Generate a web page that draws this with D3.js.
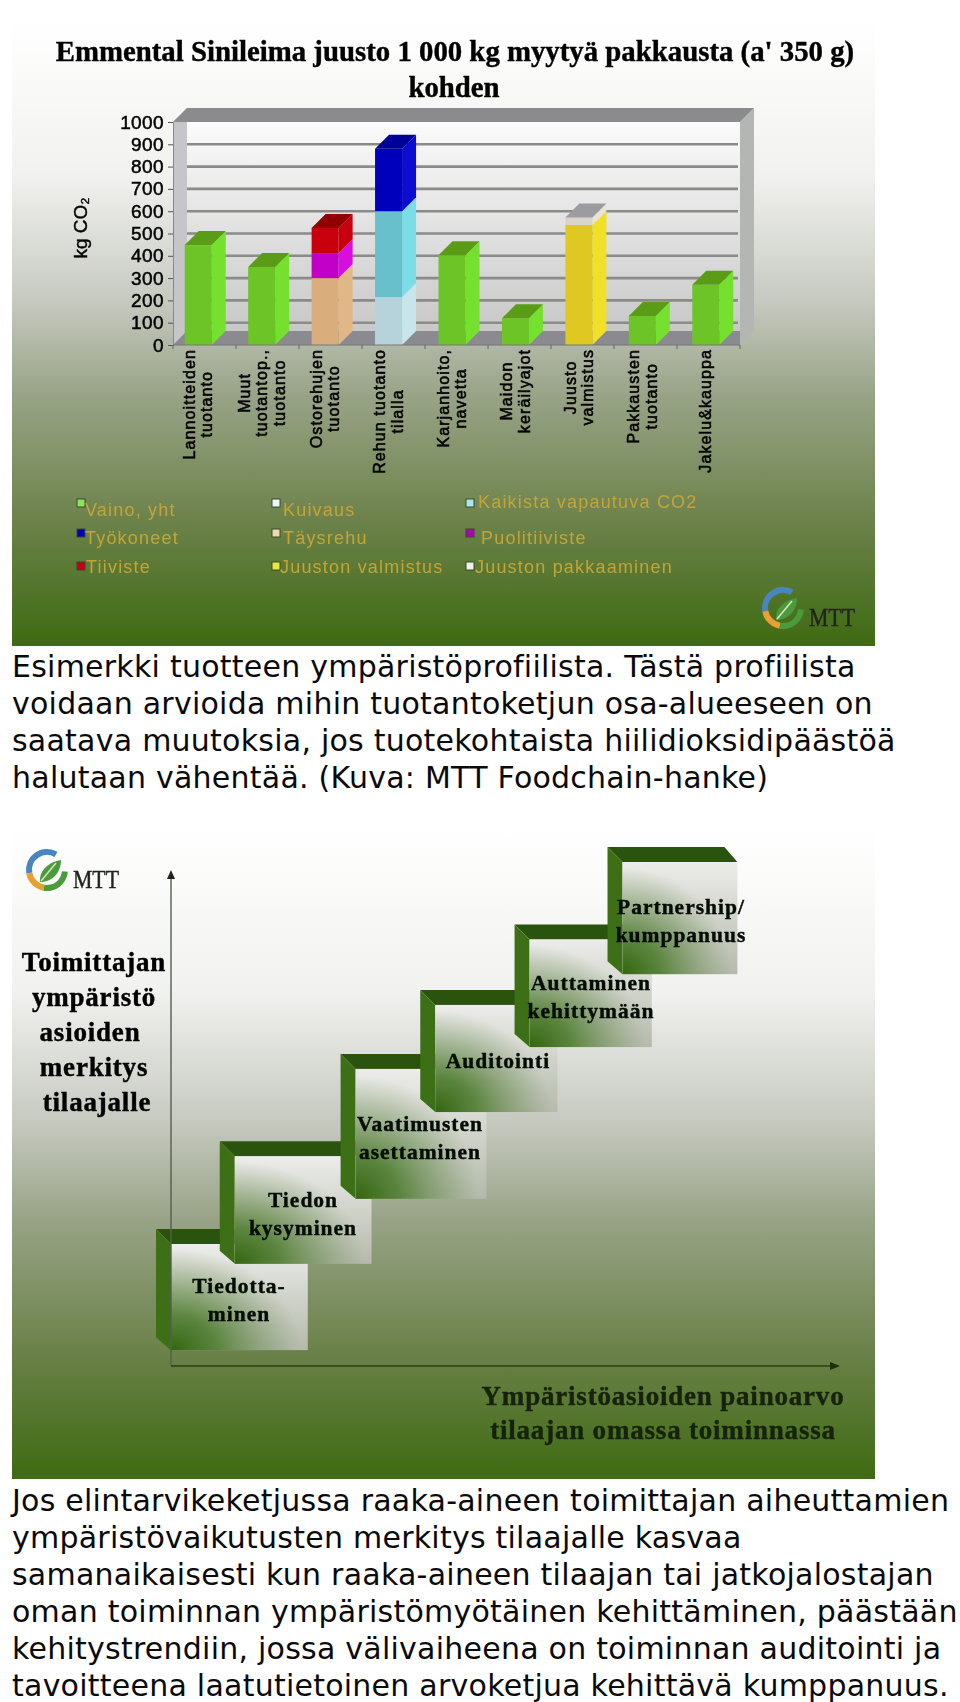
<!DOCTYPE html>
<html>
<head>
<meta charset="utf-8">
<script src="https://cdnjs.cloudflare.com/ajax/libs/d3/7.8.5/d3.min.js"></script>
<style>
body { margin: 0; background: #fff; overflow: hidden; }
svg { display: block; }
.serif { font-family: "Liberation Serif", serif; font-weight: bold; stroke: currentColor; stroke-width: 0.4px; }
.sans { font-family: "Liberation Sans", sans-serif; }
.logotext { font-family: "Liberation Serif", serif; font-weight: normal; }
.caption { font-family: "DejaVu Sans", sans-serif; font-size: 30px; letter-spacing: 0.24px; fill: #0a0a0a; }
</style>
</head>
<body>
<div id="chart"></div>
<script>
// values
const categories = ["Lannoitteiden|tuotanto", "Muut|tuotantop.,|tuotanto", "Ostorehujen|tuotanto", "Rehun tuotanto|tilalla", "Karjanhoito,|navetta", "Maidon|keräilyajot", "Juusto|valmistus", "Pakkausten|tuotanto", "Jakelu&kauppa"];
const seriesNames = ["Vaino, yht", "Kuivaus", "Kaikista vapautuva CO2", "Työkoneet", "Täysrehu", "Puolitiiviste", "Tiiviste", "Juuston valmistus", "Juuston pakkaaminen"];
const vaino = [448, 350, 0, 0, 403, 120, 0, 130, 270];
const kuivaus = [0, 0, 0, 215, 0, 0, 0, 0, 0];
const kaikista = [0, 0, 0, 385, 0, 0, 0, 0, 0];
const tyokoneet = [0, 0, 0, 280, 0, 0, 0, 0, 0];
const taysrehu = [0, 0, 300, 0, 0, 0, 0, 0, 0];
const puolitiiviste = [0, 0, 112, 0, 0, 0, 0, 0, 0];
const tiiviste = [0, 0, 113, 0, 0, 0, 0, 0, 0];
const valmistus = [0, 0, 0, 0, 0, 0, 538, 0, 0];
const pakkaaminen = [0, 0, 0, 0, 0, 0, 34, 0, 0];
const seriesValues = [vaino, kuivaus, kaikista, tyokoneet, taysrehu, puolitiiviste, tiiviste, valmistus, pakkaaminen];
const yTicks = [0, 100, 200, 300, 400, 500, 600, 700, 800, 900, 1000];

const frontColors = ["#6cc428", "#b6d3db", "#67c0cc", "#0000bc", "#d9ad7c", "#c000c8", "#c80008", "#e0c820", "#d8d4c8"];
const sideColors = ["#74e02e", "#c9e5ec", "#7cdce8", "#0a0ad0", "#e0b888", "#d810e0", "#c80010", "#f0e028", "#e8e4d8"];
const topColors = ["#5a9c18", "#c9e5ec", "#7cdce8", "#000098", "#e0b888", "#d810e0", "#900004", "#f0e028", "#9c9ca0"];
const legendColors = ["#90e060", "#eef6f8", "#a8e8e8", "#0000c0", "#eed8b0", "#b000b8", "#c00018", "#e8e840", "#f0f0e8"];

const stepLabels = ["Tiedotta-|minen", "Tiedon|kysyminen", "Vaatimusten|asettaminen", "Auditointi", "Auttaminen|kehittymään", "Partnership/|kumppanuus"];
const stepStart = [0, 9.6, 27.8, 39.8, 54, 68];
const stepEnd = [20.6, 30.2, 47.5, 58.2, 72.4, 85.3];
const stepLow = [3.2, 20.6, 33.7, 51.2, 64.3, 79];
const stepHigh = [24.6, 42.3, 59.9, 72.8, 86, 101.6];

const caption1 = ["Esimerkki tuotteen ympäristöprofiilista. Tästä profiilista", "voidaan arvioida mihin tuotantoketjun osa-alueeseen on", "saatava muutoksia, jos tuotekohtaista hiilidioksidipäästöä", "halutaan vähentää. (Kuva: MTT Foodchain-hanke)"];
const caption2 = ["Jos elintarvikeketjussa raaka-aineen toimittajan aiheuttamien", "ympäristövaikutusten merkitys tilaajalle kasvaa", "samanaikaisesti kun raaka-aineen tilaajan tai jatkojalostajan", "oman toiminnan ympäristömyötäinen kehittäminen, päästään", "kehitystrendiin, jossa välivaiheena on toiminnan auditointi ja", "tavoitteena laatutietoinen arvoketjua kehittävä kumppanuus."];
const yAxisLines = ["Toimittajan", "ympäristö", "asioiden", "merkitys", "tilaajalle"];
const xAxisLines = ["Ympäristöasioiden painoarvo", "tilaajan omassa toiminnassa"];

const svg = d3.select("#chart").append("svg").attr("width", 960).attr("height", 1702);
const defs = svg.append("defs");

const panelGrad = defs.append("linearGradient").attr("id", "panelGrad").attr("x1", 0).attr("x2", 0).attr("y1", 0).attr("y2", 1);
[[0, "#ffffff"], [0.25, "#f1f1ef"], [0.45, "#c6c9c0"], [0.6, "#98a386"], [0.8, "#6c824a"], [1, "#3f6a12"]].forEach(s => {
    panelGrad.append("stop").attr("offset", s[0]).attr("stop-color", s[1]);
});
const wallGrad = defs.append("linearGradient").attr("id", "wallGrad").attr("x1", 0).attr("x2", 0).attr("y1", 0).attr("y2", 1);
wallGrad.append("stop").attr("offset", 0).attr("stop-color", "#fbfbfb");
wallGrad.append("stop").attr("offset", 1).attr("stop-color", "#c8c8c8");
const boxBase = defs.append("linearGradient").attr("id", "boxBase").attr("x1", 0).attr("x2", 0).attr("y1", 0).attr("y2", 1);
boxBase.append("stop").attr("offset", 0).attr("stop-color", "#ececea");
boxBase.append("stop").attr("offset", 1).attr("stop-color", "#b4baab");
const boxGreen = defs.append("radialGradient").attr("id", "boxGreen").attr("cx", 0).attr("cy", 1).attr("r", 0.95);
boxGreen.append("stop").attr("offset", 0).attr("stop-color", "#33660f").attr("stop-opacity", 1);
boxGreen.append("stop").attr("offset", 0.35).attr("stop-color", "#4a7a2a").attr("stop-opacity", 0.85);
boxGreen.append("stop").attr("offset", 1).attr("stop-color", "#6a8a50").attr("stop-opacity", 0);
defs.append("filter").attr("id", "soft").attr("x", "-5%").attr("y", "-5%").attr("width", "110%").attr("height", "110%")
    .append("feGaussianBlur").attr("stdDeviation", 0.6);
defs.append("filter").attr("id", "softer").attr("x", "-5%").attr("y", "-30%").attr("width", "110%").attr("height", "160%")
    .append("feGaussianBlur").attr("stdDeviation", 0.7);

function drawLogo(g, cx, cy) {
    const arc = d3.arc().innerRadius(15).outerRadius(21);
    const parts = [["#4a86c0", -100, 30], ["#e8a030", -170, -100], ["#4c9a3a", 95, 190]];
    const lg = g.append("g").attr("transform", "translate(" + cx + "," + cy + ")");
    lg.selectAll("path.ring").data(parts).enter().append("path").attr("class", "ring")
        .attr("fill", d => d[0])
        .attr("d", d => arc({ startAngle: d[1] * Math.PI / 180, endAngle: d[2] * Math.PI / 180 }));
    lg.append("path").attr("fill", "#4c9a3a").attr("d", "M-7,12 C-8,0 2,-8 14,-10 C14,2 6,12 -7,12 Z");
    lg.append("path").attr("stroke", "#d8e4c0").attr("stroke-width", 1.5).attr("fill", "none").attr("d", "M-6,11 L9,-7");
    g.append("text").attr("class", "logotext").attr("x", cx + 26).attr("y", cy + 18)
        .attr("font-size", 25).attr("fill", "#20261e").attr("stroke", "#20261e").attr("stroke-width", 0.4)
        .attr("textLength", 46).attr("lengthAdjust", "spacingAndGlyphs").text("MTT");
}

// ---- first panel: bar chart
const p1 = svg.append("g").attr("filter", "url(#soft)");
p1.append("rect").attr("x", 12).attr("y", 20).attr("width", 863).attr("height", 626).attr("fill", "url(#panelGrad)");

p1.append("text").attr("class", "serif").attr("x", 455).attr("y", 61).attr("text-anchor", "middle").attr("font-size", 28.8).attr("fill", "#000").attr("color", "#000")
    .text("Emmental Sinileima juusto 1 000 kg myytyä pakkausta (a' 350 g)");
p1.append("text").attr("class", "serif").attr("x", 454).attr("y", 97).attr("text-anchor", "middle").attr("font-size", 28.8).attr("fill", "#000").attr("color", "#000").text("kohden");

const chartLeft = 173, chartRight = 744, wallRight = 740, depth = 14, barWidth = 27;
const x = d3.scaleBand().domain(categories).range([chartLeft, chartRight]);
const y = d3.scaleLinear().domain([0, 1000]).range([345, 122]);

function poly(pts) { return d3.line()(pts) + "Z"; }

// walls of the 3d box
p1.append("rect").attr("x", chartLeft + depth).attr("y", y(1000)).attr("width", wallRight - chartLeft - depth).attr("height", y(0) - y(1000) - depth).attr("fill", "url(#wallGrad)");
p1.append("path").attr("fill", "#c6c6ca").attr("d", poly([[chartLeft, y(1000)], [chartLeft + depth, y(1000) - depth], [chartLeft + depth, y(0) - depth], [chartLeft, y(0)]]));
p1.append("path").attr("fill", "#b4b6b4").attr("d", poly([[wallRight, y(1000)], [wallRight + depth, y(1000) - depth], [wallRight + depth, y(0) - depth], [wallRight, y(0)]]));
p1.append("path").attr("fill", "#8b8b8d").attr("d", poly([[chartLeft, y(1000)], [chartLeft + depth, y(1000) - depth], [wallRight + depth, y(1000) - depth], [wallRight, y(1000)]]));
p1.append("path").attr("fill", "#8a8a90").attr("d", poly([[chartLeft, y(0)], [chartLeft + depth, y(0) - depth], [wallRight, y(0) - depth], [wallRight, y(0)]]));

// gridlines
p1.selectAll("line.grid").data(yTicks.filter(d => d > 0 && d < 1000)).enter().append("line").attr("class", "grid")
    .attr("x1", chartLeft + depth).attr("x2", wallRight - 2).attr("y1", d => y(d)).attr("y2", d => y(d))
    .attr("stroke", "#8a8a88").attr("stroke-width", 2.6);

// stacked bars
const rows = categories.map((c, i) => {
    const row = { category: c };
    seriesNames.forEach((s, j) => { row[s] = seriesValues[j][i]; });
    return row;
});
const stacked = d3.stack().keys(seriesNames)(rows);
const barX = d => x(d.data.category) + x.bandwidth() / 2 - 20;
const layers = [];
stacked.forEach((layer, j) => {
    layer.forEach(d => { if (d[1] > d[0]) layers.push({ d: d, j: j, index: categories.indexOf(d.data.category) }); });
});
layers.sort((a, b) => a.index - b.index || a.d[0] - b.d[0]);
const isTop = l => !layers.some(o => o.index === l.index && o.d[0] >= l.d[1]);

const barG = p1.append("g");
layers.forEach(l => {
    const x0 = barX(l.d), x1 = x0 + barWidth, y0 = y(l.d[0]), y1 = y(l.d[1]);
    barG.append("path").attr("fill", sideColors[l.j]).attr("d", poly([[x1, y0], [x1 + depth, y0 - depth], [x1 + depth, y1 - depth], [x1, y1]]));
    barG.append("rect").attr("x", x0).attr("y", y1).attr("width", barWidth).attr("height", y0 - y1).attr("fill", frontColors[l.j]);
    if (isTop(l)) {
        barG.append("path").attr("fill", topColors[l.j]).attr("d", poly([[x0, y1], [x0 + depth, y1 - depth], [x1 + depth, y1 - depth], [x1, y1]]));
    }
});

// axes
const yAxis = d3.axisLeft(y).tickValues(yTicks).tickFormat(d3.format("d")).tickSize(5).tickPadding(4);
const yG = p1.append("g").attr("transform", "translate(" + chartLeft + ",0)").call(yAxis);
yG.select(".domain").attr("stroke", "#888");
yG.selectAll(".tick line").attr("stroke", "#555");
yG.selectAll("text").attr("class", "sans").attr("font-size", 19).attr("letter-spacing", 0.4).attr("fill", "#000").attr("stroke", "#000").attr("stroke-width", 0.5);

const xAxis = d3.axisBottom(x).tickSize(0).tickFormat("");
const xG = p1.append("g").attr("transform", "translate(0," + y(0) + ")").call(xAxis);
xG.select(".domain").attr("d", "M" + chartLeft + ",0H" + wallRight).attr("stroke", "#777");
const edgeStep = (wallRight - chartLeft) / categories.length;
xG.selectAll("line.edge").data(categories.concat([null])).enter().append("line").attr("class", "edge")
    .attr("x1", (d, i) => chartLeft + i * edgeStep).attr("x2", (d, i) => chartLeft + i * edgeStep)
    .attr("y1", 0).attr("y2", 4).attr("stroke", "#666");

// rotated category labels, lines centred on each other
const labelTop = 349, labelLine = 17.5;
categories.forEach(c => {
    const lines = c.split("|");
    const cx = x(c) + x.bandwidth() / 2 - 2;
    const widths = [];
    const g = p1.append("g").attr("class", "sans").attr("font-size", 16).attr("letter-spacing", 1.1).attr("fill", "#000").attr("stroke", "#000").attr("stroke-width", 0.55);
    const t = g.selectAll("text").data(lines).enter().append("text").attr("text-anchor", "middle").text(d => d);
    t.each(function () { widths.push(this.getComputedTextLength()); });
    const mid = labelTop + d3.max(widths) / 2;
    t.attr("transform", (d, i) => "translate(" + (cx + (i - (lines.length - 1) / 2) * labelLine + 1) + "," + mid + ") rotate(-90)");
});

p1.append("text").attr("class", "sans").attr("font-size", 19).attr("fill", "#000").attr("stroke", "#000").attr("stroke-width", 0.4).attr("text-anchor", "middle")
    .attr("transform", "translate(87,228) rotate(-90)").text("kg CO₂");

// legend
const legendX = [81, 276, 470];
const legendRowY = [503, 533, 566];
const legendTextX = [[85, 85, 86], [283, 283, 280], [478, 481, 475]];
const legendTextY = [[510, 538, 567], [510, 538, 567], [502, 538, 567]];
const legendOrder = [0, 3, 6, 1, 4, 7, 2, 5, 8];
const legendItems = legendOrder.map((s, i) => ({ name: seriesNames[s], color: legendColors[s], col: Math.floor(i / 3), row: i % 3 }));
const legend = p1.selectAll("g.legend").data(legendItems).enter().append("g").attr("class", "legend");
legend.append("rect").attr("x", d => legendX[d.col] - 4).attr("y", d => legendRowY[d.row] - 4).attr("width", 8).attr("height", 8)
    .attr("fill", d => d.color).attr("stroke", "#3a4a2a").attr("stroke-width", 1);
legend.append("text").attr("class", "sans").attr("x", d => legendTextX[d.col][d.row]).attr("y", d => legendTextY[d.col][d.row]).attr("dy", "0.35em")
    .attr("font-size", 18).attr("letter-spacing", 1.2).attr("fill", "#c4a436").attr("filter", "url(#softer)").text(d => d.name);

drawLogo(p1, 783, 608);

// ---- second panel: step diagram
const p2 = svg.append("g").attr("filter", "url(#soft)");
p2.append("rect").attr("x", 12).attr("y", 830).attr("width", 863).attr("height", 649).attr("fill", "url(#panelGrad)");
drawLogo(p2, 47, 870);

const sx = d3.scaleLinear().domain([0, 100]).range([171, 835]);
const sy = d3.scaleLinear().domain([0, 100]).range([1366, 870]);
const off = 15;
stepLabels.forEach((label, i) => {
    const x0 = sx(stepStart[i]), x1 = sx(stepEnd[i]), yb = sy(stepLow[i]), yt = sy(stepHigh[i]);
    p2.append("path").attr("fill", "#2c520c").attr("d", poly([[x0 - off, yt - off], [x1 - 13, yt - off], [x1, yt], [x0, yt]]));
    p2.append("path").attr("fill", "#3d7012").attr("d", poly([[x0 - off, yt - off], [x0, yt], [x0, yb], [x0 - off, yb - 13]]));
    p2.append("rect").attr("x", x0).attr("y", yt).attr("width", x1 - x0).attr("height", yb - yt).attr("fill", "url(#boxBase)");
    p2.append("rect").attr("x", x0).attr("y", yt).attr("width", x1 - x0).attr("height", yb - yt).attr("fill", "url(#boxGreen)");
});

// axis arrows
const axisY = sy(0);
p2.append("line").attr("x1", sx(0)).attr("x2", sx(0)).attr("y1", axisY).attr("y2", sy(99)).attr("stroke", "#555e50").attr("stroke-width", 1.4);
p2.append("line").attr("x1", sx(0)).attr("x2", 832).attr("y1", axisY).attr("y2", axisY).attr("stroke", "#28401a").attr("stroke-width", 1.4);
p2.append("path").attr("fill", "#222").attr("d", poly([[sx(0), sy(100)], [sx(0) + 4, sy(100) + 9], [sx(0) - 4, sy(100) + 9]]));
p2.append("path").attr("fill", "#1c3010").attr("d", poly([[840, axisY], [830, axisY - 4], [830, axisY + 4]]));

// step labels
const stepTextX = [239, 303, 420, 498, 591, 681];
const stepTextY = [1285, 1199, 1123, 1060, 982, 906];
stepLabels.forEach((label, i) => {
    p2.selectAll("text.step" + i).data(label.split("|")).enter().append("text").attr("class", "serif step" + i)
        .attr("x", stepTextX[i]).attr("y", (d, j) => stepTextY[i] + j * 28.5).attr("dy", "0.35em")
        .attr("text-anchor", "middle").attr("font-size", 21.5).attr("letter-spacing", 1).attr("fill", "#050a05").attr("color", "#050a05").text(d => d);
});

p2.selectAll("text.ylab").data(yAxisLines).enter().append("text").attr("class", "serif ylab")
    .attr("x", (d, i) => [94, 94, 90, 94, 97][i]).attr("y", (d, i) => 962 + i * 35).attr("dy", "0.35em")
    .attr("text-anchor", "middle").attr("font-size", 27).attr("letter-spacing", 0.8).attr("fill", "#000").attr("color", "#000").text(d => d);
p2.selectAll("text.xlab").data(xAxisLines).enter().append("text").attr("class", "serif xlab")
    .attr("x", 663).attr("y", (d, i) => 1396 + i * 34).attr("dy", "0.35em")
    .attr("text-anchor", "middle").attr("font-size", 27).attr("letter-spacing", 0.8).attr("fill", "#142408").attr("color", "#142408").text(d => d);

// captions
const caps = svg.append("g");
caps.selectAll("text.c1").data(caption1).enter().append("text").attr("class", "caption c1").attr("x", 12).attr("y", (d, i) => 677 + i * 37).text(d => d);
caps.selectAll("text.c2").data(caption2).enter().append("text").attr("class", "caption c2").attr("x", 12).attr("y", (d, i) => 1511 + i * 37).text(d => d);
</script>
</body>
</html>
